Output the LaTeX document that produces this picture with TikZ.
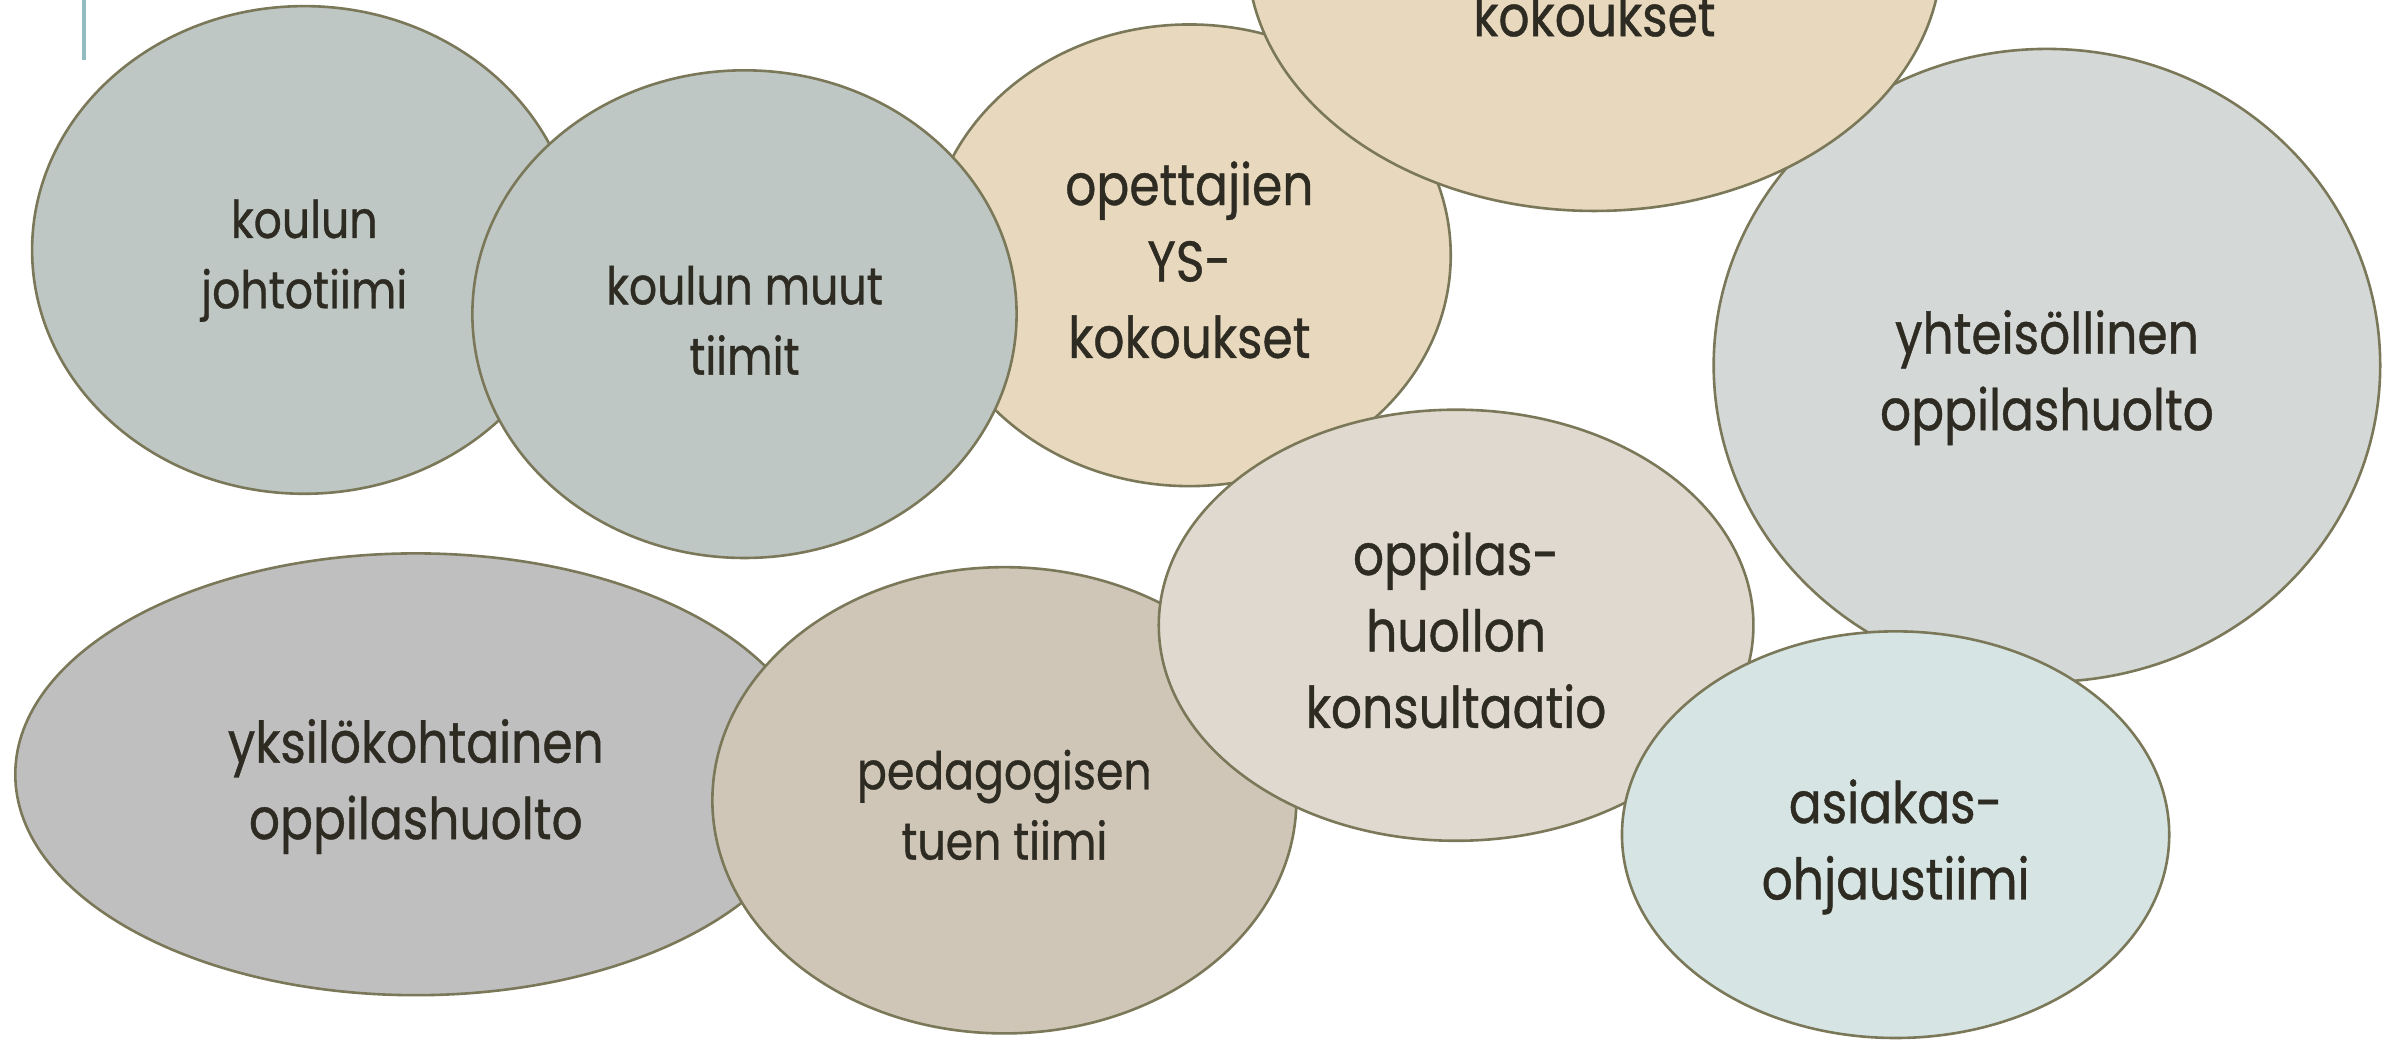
\documentclass[tikz,border=0pt]{standalone}
\usepackage{fontspec}
\setmainfont[FakeStretch=0.85,FakeBold=0.7]{Poppins}
\usetikzlibrary{shapes.geometric}
\definecolor{edge}{HTML}{7A7858}
\definecolor{ink}{HTML}{2D2B22}
\definecolor{cGreyGreen}{HTML}{BEC7C3}
\definecolor{cSand}{HTML}{E8D9BE}
\definecolor{cLightGrey}{HTML}{D4D8D6}
\definecolor{cGrey}{HTML}{BFBFBF}
\definecolor{cTaupe}{HTML}{CFC6B7}
\definecolor{cStone}{HTML}{E0D9CF}
\definecolor{cMist}{HTML}{D6E5E4}
\definecolor{cTeal}{HTML}{93BCC0}
\tikzset{
  blob/.style={ellipse, draw=edge, line width=1.7pt, inner sep=0pt},
  bigtxt/.style={font=\fontsize{37.5}{50}\selectfont},
  smalltxt/.style={font=\fontsize{34}{46}\selectfont},
  lbl/.style={text=ink, inner sep=0pt, align=center}
}
\begin{document}
\begin{tikzpicture}[x=1pt,y=-1pt]
\useasboundingbox (0,0) rectangle (1568,680);
\clip (0,0) rectangle (1568,680);
\fill[white] (0,0) rectangle (1568,680);
\node[blob, fill=cGreyGreen, minimum width=356pt, minimum height=319pt] (johto) at (199,163.5) {};
\node[lbl, smalltxt] (johtoTxt) at ([yshift=-7pt]johto.center) {koulun\\johtotiimi};
\node[blob, fill=cSand, minimum width=342pt, minimum height=302pt] (opet) at (778,167) {};
\node[lbl, bigtxt] (opetTxt) at ([yshift=-3pt]opet.center) {opettajien\\YS-\\kokoukset};
\node[blob, fill=cGreyGreen, minimum width=356pt, minimum height=319pt] (muut) at (487,205.5) {};
\node[lbl, smalltxt] (muutTxt) at ([yshift=-4pt]muut.center) {koulun muut\\tiimit};
\node[blob, fill=cLightGrey, minimum width=436pt, minimum height=414pt] (yht) at (1339,239) {};
\node[lbl, bigtxt] (yhtTxt) at ([yshift=-8pt]yht.center) {yhteisöllinen\\oppilashuolto};
\node[blob, fill=cSand, minimum width=454pt, minimum height=336pt] (kok) at (1043,-30) {};
\node[lbl, bigtxt] (kokTxt) at ([yshift=-40pt]kok.center) {kokoukset};
\node[blob, fill=cGrey, minimum width=524pt, minimum height=289pt] (yks) at (272,506.5) {};
\node[lbl, bigtxt] (yksTxt) at ([yshift=-8pt]yks.center) {yksilökohtainen\\oppilashuolto};
\node[blob, fill=cTaupe, minimum width=382pt, minimum height=305pt] (ped) at (657,523.5) {};
\node[lbl, smalltxt] (pedTxt) at ([yshift=-3pt]ped.center) {pedagogisen\\tuen tiimi};
\node[blob, fill=cStone, minimum width=389pt, minimum height=282pt] (kons) at (952.5,409) {};
\node[lbl, bigtxt] (konsTxt) at ([yshift=-3pt]kons.center) {oppilas-\\huollon\\konsultaatio};
\node[blob, fill=cMist, minimum width=358pt, minimum height=266pt] (asia) at (1240,546) {};
\node[lbl, bigtxt] (asiaTxt) at ([yshift=-8pt]asia.center) {asiakas-\\ohjaustiimi};
\coordinate (lineTop) at (55,0);
\coordinate (lineBot) at (55,39);
\draw[cTeal, line width=2.5pt] (lineTop) -- (lineBot);
\end{tikzpicture}
\end{document}
